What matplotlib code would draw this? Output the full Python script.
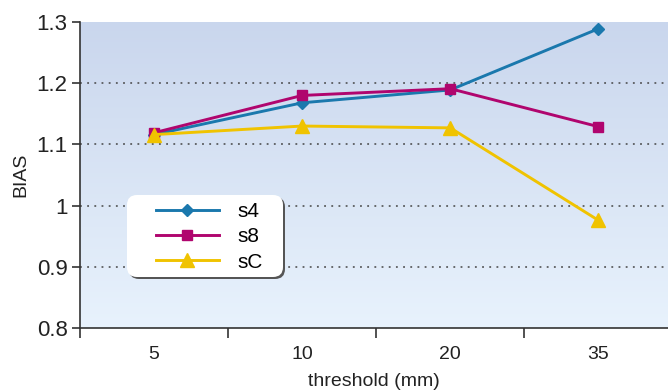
import numpy as np
import matplotlib
matplotlib.use('Agg')
import matplotlib.pyplot as plt
import matplotlib.patches as patches
from matplotlib.transforms import IdentityTransform

# dane
thresholds = ['5', '10', '20', '35']
s4 = [1.116, 1.168, 1.189, 1.289]
s8 = [1.119, 1.180, 1.191, 1.129]
sC = [1.116, 1.130, 1.127, 0.976]
y_ticks = [0.8, 0.9, 1.0, 1.1, 1.2, 1.3]
y_tick_labels = ['0.8', '0.9', '1', '1.1', '1.2', '1.3']

plt.rcParams['font.family'] = ['Liberation Sans', 'DejaVu Sans']

W, H = 668, 392
fig = plt.figure(figsize=(W / 100, H / 100), dpi=100)
ax = fig.add_axes([80 / W, 64 / H, 588 / W, 306 / H])

x = np.arange(len(thresholds))
ax.set_xlim(-0.5, 3.47)
ax.set_ylim(0.8, 1.3)

# gradientowe tło
grad = np.linspace(0, 1, 256).reshape(-1, 1)
top = np.array([0.79, 0.84, 0.93])
bottom = np.array([0.91, 0.95, 0.99])
img = top + (bottom - top) * grad[:, :, None]
ax.imshow(img, extent=[-0.5, 3.47, 0.8, 1.3], aspect='auto', zorder=0, origin='upper')

for yv in [0.9, 1.0, 1.1, 1.2]:
    ax.axhline(yv, color='#444444', linestyle=(0, (1.2, 3.5)), linewidth=1.1, zorder=1)

ax.plot(x, s4, color='#1a78ad', lw=2.1, marker='D', markersize=6.5, label='s4', zorder=3)
ax.plot(x, s8, color='#b0056e', lw=2.1, marker='s', markersize=6.5, label='s8', zorder=3)
ax.plot(x, sC, color='#f0c300', lw=2.1, marker='^', markersize=10, label='sC', zorder=3)

for s in ['top', 'right']:
    ax.spines[s].set_visible(False)
for s in ['left', 'bottom']:
    ax.spines[s].set_color('#333333')
    ax.spines[s].set_linewidth(1.2)

ax.set_yticks(y_ticks)
ax.set_yticklabels(y_tick_labels, fontsize=16, color='#222222')
ax.set_xticks(x)
ax.set_xticklabels(thresholds, fontsize=14, color='#222222')
ax.tick_params(axis='x', length=0, pad=13)
ax.set_xticks([-0.5, 0.5, 1.5, 2.5], minor=True)
ax.tick_params(axis='x', which='minor', length=7, width=1.2, color='#333333', direction='out')
ax.tick_params(axis='y', length=6, width=1.2, color='#333333', direction='out', pad=3)

ax.set_ylabel('BIAS', fontsize=14, color='#222222', labelpad=5)
ax.set_xlabel('threshold (mm)', fontsize=14, color='#222222', labelpad=7)

# ramka legendy (zaokrąglona, z cieniem), w pikselach
bx0, bx1, by0, by1 = 127, 283, H - 277, H - 195
shadow = patches.FancyBboxPatch((bx0 + 2, by0 - 2), bx1 - bx0, by1 - by0,
                                boxstyle='round,pad=0,rounding_size=10',
                                transform=IdentityTransform(), facecolor='#555555',
                                edgecolor='none', zorder=4, clip_on=False)
box = patches.FancyBboxPatch((bx0, by0), bx1 - bx0, by1 - by0,
                             boxstyle='round,pad=0,rounding_size=10',
                             transform=IdentityTransform(), facecolor='white',
                             edgecolor='none', zorder=5, clip_on=False)
ax.add_patch(shadow)
ax.add_patch(box)

leg = ax.legend(loc='upper left', bbox_to_anchor=(156, H - 202), bbox_transform=IdentityTransform(),
                frameon=False, fontsize=15, handlelength=3.0, numpoints=1,
                labelspacing=0.3, borderpad=0, handletextpad=0.9, borderaxespad=0)
leg.set_zorder(6)

plt.savefig('out.png', dpi=100)
